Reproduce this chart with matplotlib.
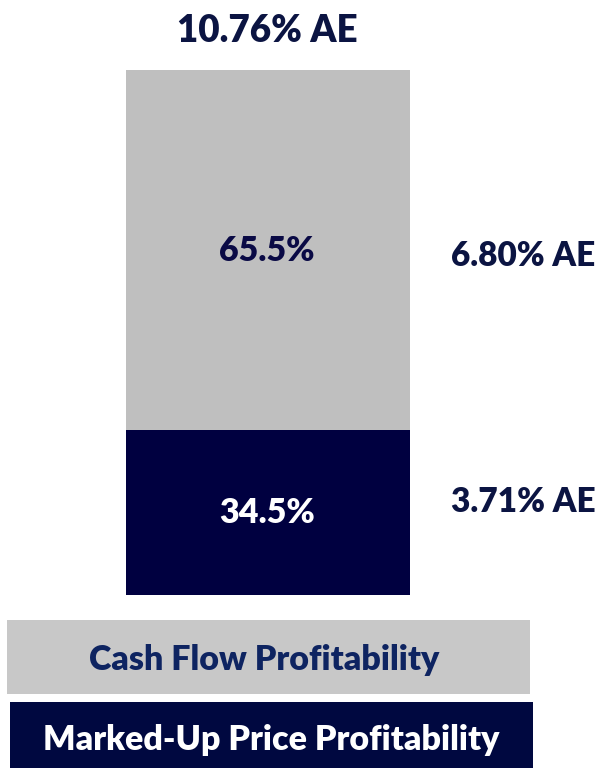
import matplotlib.pyplot as plt
from matplotlib.patches import Rectangle

# segment heights as drawn (bottom -> top) and the labels printed on them
segments = ["Marked-Up Price Profitability", "Cash Flow Profitability"]
drawn_heights = [31.4, 68.6]
share_labels = ["34.5%", "65.5%"]
ae_labels = ["3.71% AE", "6.80% AE"]
total_label = "10.76% AE"

bar_colors = ["#000040", "#BFBFBF"]
inner_text_colors = ["white", "#0A0A45"]
navy_text = "#0B1442"

plt.rcParams['font.family'] = ['Lato', 'DejaVu Sans']
wt = "heavy"

W, H = 602, 768
fig = plt.figure(figsize=(W / 100, H / 100), dpi=100)

# axes placed so the bar covers x 126..410 px and y 70..595 px
ax = fig.add_axes([126 / W, (H - 595) / H, 284 / W, 525 / H])
ax.set_xlim(-0.5, 0.5)
ax.set_ylim(0, sum(drawn_heights))
ax.axis("off")

bottom = 0
for h, c in zip(drawn_heights, bar_colors):
    ax.bar(0, h, width=1.0, bottom=bottom, color=c, linewidth=0)
    bottom += h

# inner labels (pixel positions from the picture)
fig.text(267 / W, 1 - 513 / H, share_labels[0], ha="center", va="center",
         color=inner_text_colors[0], fontsize=24.5, fontweight=wt)
fig.text(267 / W, 1 - 251 / H, share_labels[1], ha="center", va="center",
         color=inner_text_colors[1], fontsize=24.5, fontweight=wt)

# AE labels
fig.text(267 / W, 1 - 31 / H, total_label, ha="center", va="center",
         color=navy_text, fontsize=26.5, fontweight=wt)
fig.text(523 / W, 1 - 256 / H, ae_labels[1], ha="center", va="center",
         color=navy_text, fontsize=24, fontweight=wt)
fig.text(523 / W, 1 - 502 / H, ae_labels[0], ha="center", va="center",
         color=navy_text, fontsize=24, fontweight=wt)

# legend boxes
fig.add_artist(Rectangle((7 / W, 1 - 694 / H), 523 / W, 74 / H,
                         transform=fig.transFigure, color="#C8C8C8", lw=0))
fig.add_artist(Rectangle((10 / W, 0), 523 / W, 66 / H,
                         transform=fig.transFigure, color="#000840", lw=0))
fig.text(264 / W, 1 - 660 / H, segments[1], ha="center", va="center",
         color="#0E2461", fontsize=24.5, fontweight=wt)
fig.text(271 / W, 1 - 740 / H, segments[0], ha="center", va="center",
         color="white", fontsize=24.5, fontweight=wt)

fig.savefig("out.png", dpi=100)
